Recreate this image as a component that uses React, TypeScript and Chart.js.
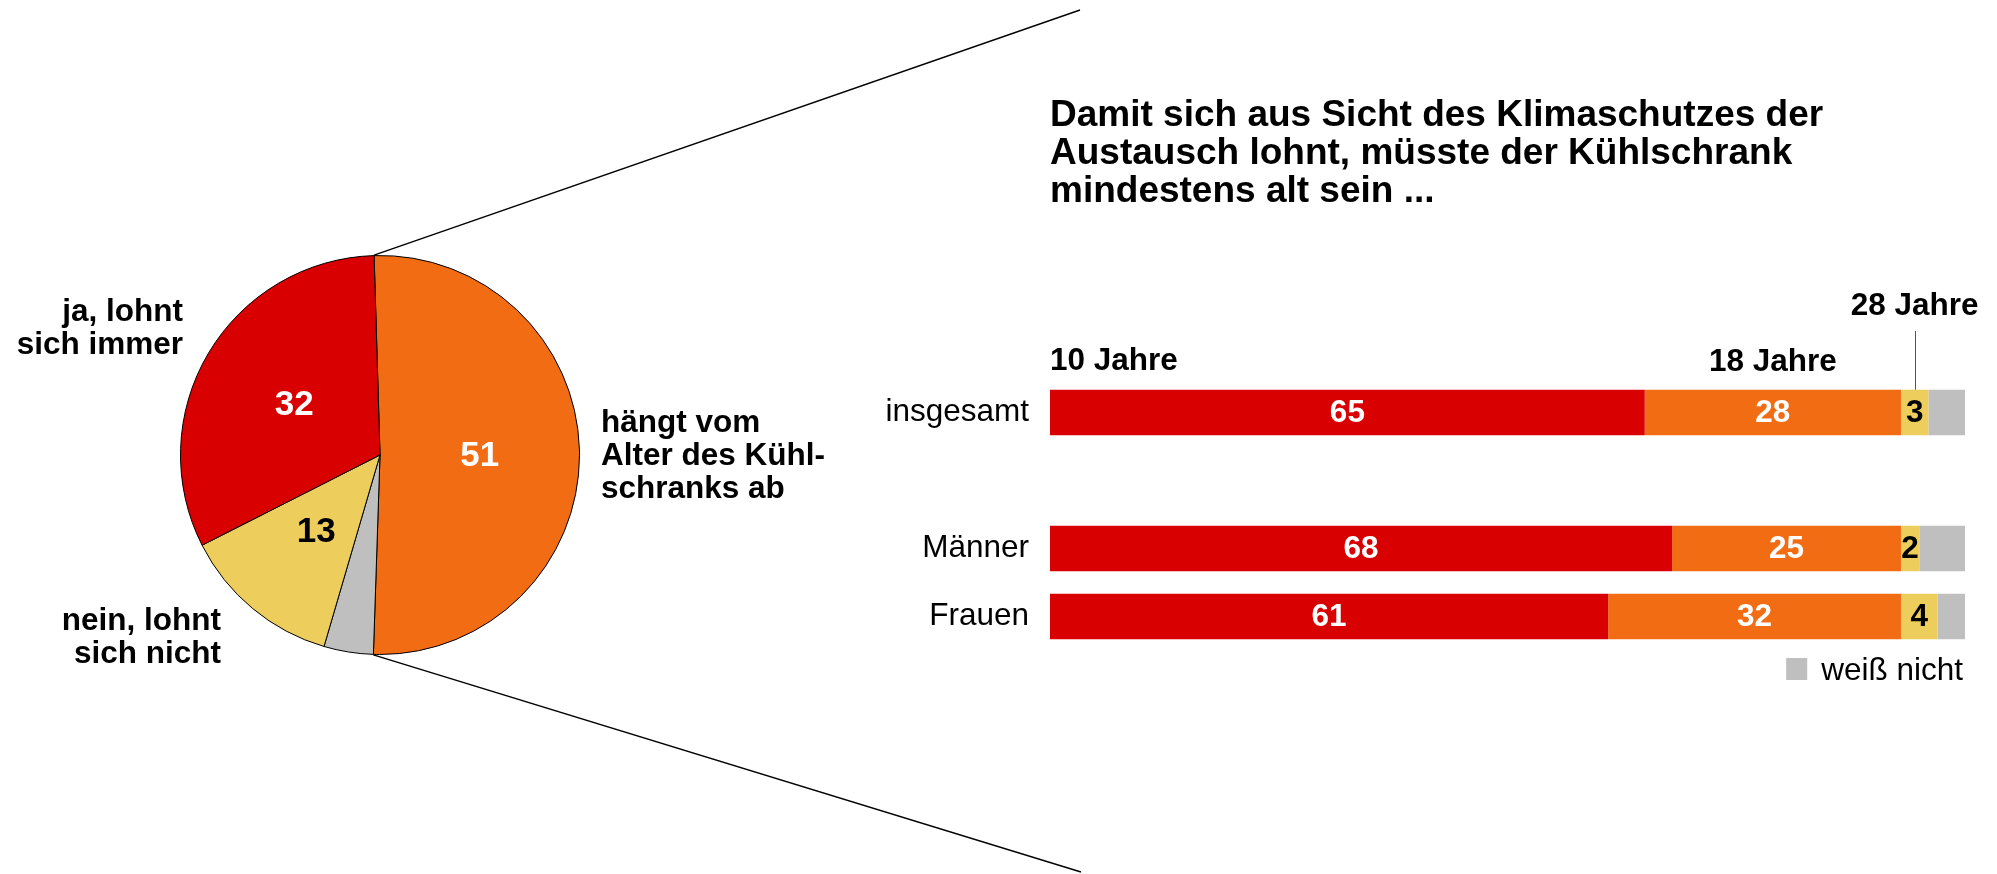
import React, { useEffect, useRef } from "react";
import { Chart, registerables } from "chart.js";

Chart.register(...registerables);

const FONT = '"Liberation Sans", Arial, Helvetica, sans-serif';

// ---------- Pie data ----------
const pieLabels = [
  "hängt vom Alter des Kühlschranks ab",
  "weiß nicht",
  "nein, lohnt sich nicht",
  "ja, lohnt sich immer",
];
const pieValues = [51, 4, 13, 32];
const pieColors = ["#F26C14", "#BFBFBF", "#EDCD5B", "#D80000"];
const pieValueColors = ["#FFFFFF", "", "#000000", "#FFFFFF"];
const pieTextLines = [
  ["hängt vom", "Alter des Kühl-", "schranks ab"],
  [],
  ["nein, lohnt", "sich nicht"],
  ["ja, lohnt", "sich immer"],
];

// ---------- Bar data ----------
const barCategories = ["insgesamt", "", "Männer", "Frauen"];
const seriesNames = ["10 Jahre", "18 Jahre", "28 Jahre", "weiß nicht"];
const series10 = [65, null, 68, 61];
const series18 = [28, null, 25, 32];
const series28 = [3, null, 2, 4];
const seriesDontKnow = [4, null, 5, 3];
const barColors = ["#D80000", "#F26C14", "#EDCD5B", "#BFBFBF"];
const barValueColors = ["#FFFFFF", "#FFFFFF", "#000000", ""];
const titleLines = [
  "Damit sich aus Sicht des Klimaschutzes der",
  "Austausch lohnt, müsste der Kühlschrank",
  "mindestens alt sein ...",
];

const W = 1997;
const H = 874;

const piePlugin = {
  id: "pieDecor",
  afterDraw(chart: any) {
    const ctx = chart.ctx;
    const meta = chart.getDatasetMeta(0);
    const arcs = meta.data;
    ctx.save();
    // connector lines from the orange slice edges
    const a0 = arcs[0].getProps(["x", "y", "startAngle", "endAngle", "outerRadius"], true);
    const R = a0.outerRadius + 0.5;
    ctx.strokeStyle = "#000";
    ctx.lineWidth = 1.4;
    ctx.beginPath();
    ctx.moveTo(a0.x + Math.cos(a0.startAngle) * R, a0.y + Math.sin(a0.startAngle) * R);
    ctx.lineTo(1080, 10);
    ctx.moveTo(a0.x + Math.cos(a0.endAngle) * R, a0.y + Math.sin(a0.endAngle) * R);
    ctx.lineTo(1081, 872);
    ctx.stroke();

    // values inside slices
    ctx.font = `bold 35px ${FONT}`;
    ctx.textAlign = "center";
    ctx.textBaseline = "middle";
    arcs.forEach((arc: any, i: number) => {
      if (!pieValueColors[i]) return;
      const p = arc.getProps(["x", "y", "startAngle", "endAngle", "outerRadius"], true);
      const mid = (p.startAngle + p.endAngle) / 2;
      const r = p.outerRadius * 0.5;
      ctx.fillStyle = pieValueColors[i];
      ctx.fillText(String(pieValues[i]), p.x + Math.cos(mid) * r, p.y + Math.sin(mid) * r + 1);
    });

    // outside labels
    ctx.font = `bold 31.5px ${FONT}`;
    ctx.fillStyle = "#000";
    ctx.textBaseline = "alphabetic";
    const anchors = [
      { x: 601, y: 432, align: "left" },
      null,
      { x: 221, y: 630, align: "right" },
      { x: 183, y: 321, align: "right" },
    ];
    pieTextLines.forEach((lines, i) => {
      const a = anchors[i];
      if (!a) return;
      ctx.textAlign = a.align;
      lines.forEach((ln, k) => ctx.fillText(ln, a.x, a.y + k * 32.8));
    });
    ctx.restore();
  },
};

const barPlugin = {
  id: "barDecor",
  afterDraw(chart: any) {
    const ctx = chart.ctx;
    const xs = chart.scales.x;
    ctx.save();
    // title
    ctx.fillStyle = "#000";
    ctx.font = `bold 37px ${FONT}`;
    ctx.textAlign = "left";
    ctx.textBaseline = "alphabetic";
    titleLines.forEach((t, i) => ctx.fillText(t, xs.getPixelForValue(0), 126 + i * 38));

    // values in segments
    ctx.font = `bold 31.5px ${FONT}`;
    ctx.textAlign = "center";
    ctx.textBaseline = "middle";
    chart.data.datasets.forEach((ds: any, di: number) => {
      if (!barValueColors[di]) return;
      const meta = chart.getDatasetMeta(di);
      meta.data.forEach((el: any, j: number) => {
        const v = ds.data[j];
        if (v == null) return;
        const p = el.getProps(["x", "y", "base"], true);
        ctx.fillStyle = barValueColors[di];
        ctx.fillText(String(v), (p.x + p.base) / 2, p.y + 1);
      });
    });

    // series annotations over first bar
    ctx.fillStyle = "#000";
    ctx.textBaseline = "alphabetic";
    const m0 = chart.getDatasetMeta(0).data[0].getProps(["x", "y", "base", "height"], true);
    const m1 = chart.getDatasetMeta(1).data[0].getProps(["x", "y", "base"], true);
    const m2 = chart.getDatasetMeta(2).data[0].getProps(["x", "y", "base"], true);
    const barTop = m0.y - m0.height / 2;
    ctx.textAlign = "left";
    ctx.fillText(seriesNames[0], m0.base, 370);
    ctx.textAlign = "center";
    ctx.fillText(seriesNames[1], (m1.x + m1.base) / 2, 371);
    const c2 = (m2.x + m2.base) / 2;
    ctx.fillText(seriesNames[2], c2, 315);
    ctx.strokeStyle = "#555";
    ctx.lineWidth = 1;
    ctx.beginPath();
    ctx.moveTo(Math.round(c2) + 0.5, 331);
    ctx.lineTo(Math.round(c2) + 0.5, barTop);
    ctx.stroke();

    // legend for "weiß nicht"
    const right = chart.chartArea.right;
    ctx.font = `31.5px ${FONT}`;
    ctx.textAlign = "right";
    ctx.fillText(seriesNames[3], right - 2, 680);
    const tw = ctx.measureText(seriesNames[3]).width;
    ctx.fillStyle = barColors[3];
    ctx.fillRect(right - 2 - tw - 35, 658, 21, 22);
    ctx.restore();
  },
};

export default function App() {
  const pieRef = useRef<HTMLCanvasElement>(null);
  const barRef = useRef<HTMLCanvasElement>(null);

  useEffect(() => {
    const pie = new Chart(pieRef.current as HTMLCanvasElement, {
      type: "pie",
      data: {
        labels: pieLabels,
        datasets: [
          {
            data: pieValues,
            backgroundColor: pieColors,
            borderColor: "#000",
            borderWidth: 1,
          },
        ],
      },
      options: {
        responsive: false,
        animation: false,
        rotation: -1.7,
        layout: { padding: { left: 180, top: 255, right: W - 580, bottom: H - 655 } },
        plugins: { legend: { display: false }, tooltip: { enabled: false } },
      },
      plugins: [piePlugin],
    } as any);

    const datasets = [series10, series18, series28, seriesDontKnow].map((d, i) => ({
      label: seriesNames[i],
      data: d,
      backgroundColor: barColors[i],
      borderWidth: 0,
      barPercentage: 0.67,
      categoryPercentage: 1,
    }));

    const bar = new Chart(barRef.current as HTMLCanvasElement, {
      type: "bar",
      data: { labels: barCategories, datasets },
      options: {
        indexAxis: "y",
        responsive: false,
        animation: false,
        layout: { padding: { left: 800, right: 32, top: 378.5, bottom: H - 650.5 } },
        scales: {
          x: { stacked: true, display: false, min: 0, max: 100 },
          y: {
            stacked: true,
            grid: { display: false, drawTicks: false },
            border: { display: false },
            ticks: {
              autoSkip: false,
              padding: 21,
              color: "#000",
              font: { family: FONT, size: 31.5 },
            },
            afterFit: (s: any) => {
              s.width = 250;
            },
          },
        },
        plugins: { legend: { display: false }, tooltip: { enabled: false } },
      },
      plugins: [barPlugin],
    } as any);

    return () => {
      pie.destroy();
      bar.destroy();
    };
  }, []);

  return (
    <div style={{ position: "absolute", left: 0, top: 0, width: W, height: H, background: "#fff" }}>
      <canvas ref={pieRef} width={W} height={H} style={{ position: "absolute", left: 0, top: 0 }} />
      <canvas ref={barRef} width={W} height={H} style={{ position: "absolute", left: 0, top: 0 }} />
    </div>
  );
}
